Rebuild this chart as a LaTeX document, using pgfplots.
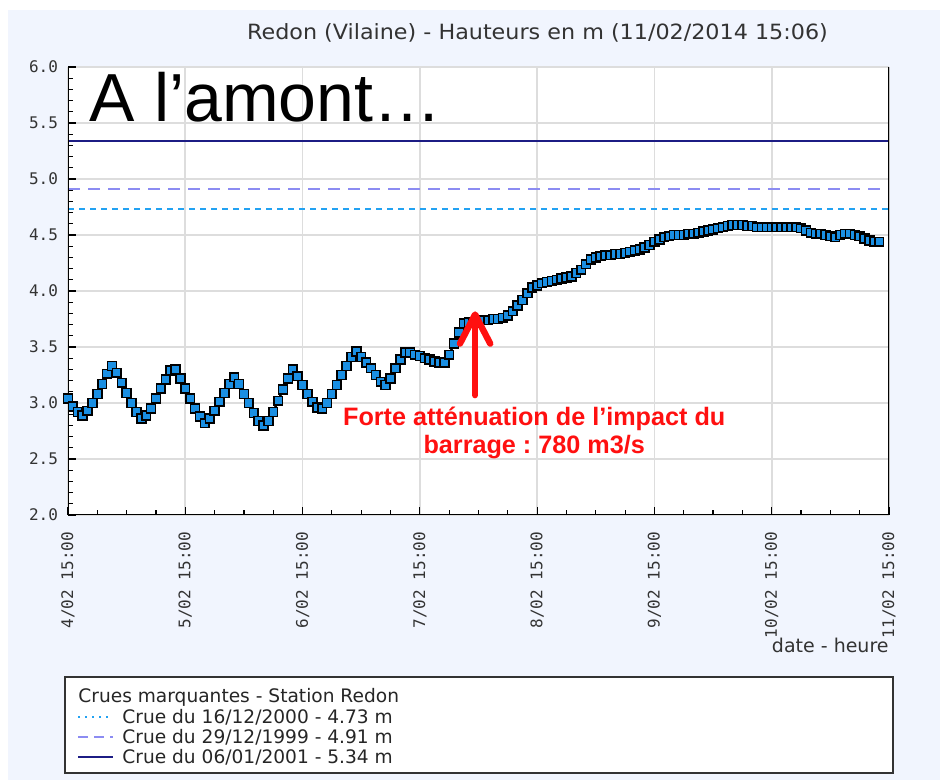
\documentclass[border=0pt]{standalone}
\usepackage{pgfplots}
\pgfplotsset{compat=1.18}
\usepackage{fontspec}
\setmainfont{DejaVu Sans}
\newfontfamily\monofont{DejaVu Sans Mono}
\newfontfamily\arial{Liberation Sans}
\frenchspacing
\definecolor{bgc}{HTML}{F1F5FE}
\definecolor{navyl}{HTML}{1C1C84}
\definecolor{lav}{HTML}{8C8CF2}
\definecolor{lblue}{HTML}{22A2F2}
\definecolor{mfill}{HTML}{1A8FE3}
\definecolor{gridc}{HTML}{DDDDDD}
\definecolor{redc}{HTML}{FF1010}
\pgfplotstableread{
h v
0 3.04
1 2.97
2 2.92
3 2.89
4 2.93
5 3.00
6 3.08
7 3.17
8 3.26
9 3.33
10 3.27
11 3.18
12 3.09
13 3.00
14 2.92
15 2.86
16 2.89
17 2.95
18 3.04
19 3.13
20 3.21
21 3.29
22 3.30
23 3.22
24 3.13
25 3.04
26 2.95
27 2.88
28 2.82
29 2.86
30 2.93
31 3.01
32 3.09
33 3.17
34 3.23
35 3.17
36 3.08
37 3.00
38 2.91
39 2.84
40 2.80
41 2.84
42 2.92
43 3.02
44 3.12
45 3.22
46 3.30
47 3.24
48 3.16
49 3.08
50 3.01
51 2.96
52 2.95
53 3.00
54 3.08
55 3.16
56 3.25
57 3.33
58 3.41
59 3.46
60 3.41
61 3.36
62 3.31
63 3.25
64 3.19
65 3.16
66 3.22
67 3.31
68 3.39
69 3.45
70 3.45
71 3.43
72 3.42
73 3.40
74 3.39
75 3.37
76 3.36
77 3.36
78 3.43
79 3.53
80 3.63
81 3.71
82 3.72
83 3.72
84 3.73
85 3.74
86 3.74
87 3.75
88 3.75
89 3.76
90 3.78
91 3.82
92 3.87
93 3.92
94 3.98
95 4.03
96 4.05
97 4.07
98 4.08
99 4.09
100 4.10
101 4.11
102 4.12
103 4.13
104 4.16
105 4.19
106 4.24
107 4.28
108 4.30
109 4.31
110 4.32
111 4.32
112 4.33
113 4.33
114 4.34
115 4.35
116 4.36
117 4.37
118 4.39
119 4.41
120 4.44
121 4.46
122 4.48
123 4.49
124 4.50
125 4.50
126 4.50
127 4.51
128 4.51
129 4.52
130 4.53
131 4.54
132 4.55
133 4.56
134 4.57
135 4.58
136 4.59
137 4.59
138 4.59
139 4.58
140 4.58
141 4.57
142 4.57
143 4.57
144 4.57
145 4.57
146 4.57
147 4.57
148 4.57
149 4.57
150 4.56
151 4.54
152 4.52
153 4.51
154 4.51
155 4.50
156 4.49
157 4.48
158 4.50
159 4.51
160 4.51
161 4.50
162 4.49
163 4.47
164 4.45
165 4.44
166 4.44
}\hauteurs
\begin{document}
\begin{tikzpicture}[x=1pt,y=1pt]
\fill[white] (0,0) rectangle (470,390);
\fill[bgc] (4,0) rectangle (470,385);
\begin{axis}[
  at={(34pt,132.5pt)}, anchor=south west,
  scale only axis, width=410.5pt, height=224pt,
  xmin=0, xmax=168, ymin=2, ymax=6,
  axis background/.style={fill=white},
  axis line style={draw=none},
  xtick={0,24,...,168},
  xticklabels={4/02 15:00,5/02 15:00,6/02 15:00,7/02 15:00,8/02 15:00,9/02 15:00,10/02 15:00,11/02 15:00},
  minor x tick num=3,
  ytick={2,2.5,...,6},
  minor y tick num=4,
  xtick pos=bottom, ytick pos=left,
  tick align=inside,
  major tick length=4pt, minor tick length=2.5pt,
  tick style={black, line width=0.6pt},
  xmajorgrids, ymajorgrids,
  major grid style={draw=gridc, line width=0.9pt},
  yticklabel style={font=\monofont\fontsize{8}{9}\selectfont, text=black!80, xshift=-1.5pt,
    /pgf/number format/fixed, /pgf/number format/fixed zerofill, /pgf/number format/precision=1},
  /pgf/number format/assume math mode=true,
  xticklabel style={font=\monofont\fontsize{8}{9}\selectfont, text=black!80, rotate=90, anchor=east, xshift=-5pt},
]
\addplot[lblue, line width=0.75pt, dash pattern=on 3pt off 2.5pt] coordinates {(0,4.73) (168,4.73)};
\addplot[lav, line width=0.75pt, dash pattern=on 6pt off 4pt] coordinates {(0,4.91) (168,4.91)};
\addplot[navyl, line width=0.8pt] coordinates {(0,5.34) (168,5.34)};
\addplot[black, line width=1.2pt, mark=square*, mark size=2.2pt,
  mark options={fill=mfill, draw=black, line width=0.8pt}] table[x=h, y=v] {\hauteurs};
\draw[black, line width=0.9pt] (rel axis cs:0,1) -- (rel axis cs:0,0) -- (rel axis cs:1,0);
\draw[black, line width=1.1pt] (rel axis cs:1,0) -- (rel axis cs:1,1);
\coordinate (abase) at (axis cs:83.3,3.07);
\coordinate (atip) at (axis cs:83.3,3.79);
\coordinate (ashaft) at (axis cs:83.3,3.77);
\coordinate (aleft) at (axis cs:80.2,3.53);
\coordinate (aright) at (axis cs:86.4,3.53);
\coordinate (annot) at (axis cs:95.4,2.73);
\coordinate (amont) at (axis cs:4.4,5.51);
\end{axis}
\draw[redc, line width=3.2pt, line cap=round] (abase) -- (ashaft);
\draw[redc, line width=3.2pt, line cap=round, line join=round] (aleft) -- (atip) -- (aright);
\node[text=redc, font=\arial\bfseries\fontsize{12.6}{14}\selectfont, align=center] at (annot) {Forte atténuation de l’impact du\\barrage : 780 m3/s};
\node[anchor=base west, inner sep=0pt, font=\arial\fontsize{34}{36}\selectfont] at (amont) {A l’amont…};
\node[font=\fontsize{10.5}{12}\selectfont, text=black!80, xscale=1.06] at (268.75,373.5) {Redon (Vilaine) - Hauteurs en m (11/02/2014 15:06)};
\node[anchor=east, inner sep=0pt, font=\fontsize{9.5}{11}\selectfont, text=black!80] at (444.5,67.5) {date - heure};
\draw[fill=white, draw=black!80, line width=0.8pt] (32.5,3.5) rectangle (446.5,51.5);
\node[anchor=west, inner sep=0pt, font=\fontsize{9.3}{11}\selectfont, text=black!85] at (39,41.5) {Crues marquantes - Station Redon};
\draw[lblue, line width=0.75pt, dash pattern=on 1pt off 2.5pt] (39,31.5) -- (56.5,31.5);
\node[anchor=west, inner sep=0pt, font=\fontsize{9.3}{11}\selectfont, text=black!85] at (61,31.5) {Crue du 16/12/2000 - 4.73 m};
\draw[lav, line width=0.75pt, dash pattern=on 5pt off 3pt] (39,21.5) -- (56.5,21.5);
\node[anchor=west, inner sep=0pt, font=\fontsize{9.3}{11}\selectfont, text=black!85] at (61,21.5) {Crue du 29/12/1999 - 4.91 m};
\draw[navyl, line width=0.8pt] (39,11.5) -- (56.5,11.5);
\node[anchor=west, inner sep=0pt, font=\fontsize{9.3}{11}\selectfont, text=black!85] at (61,11.5) {Crue du 06/01/2001 - 5.34 m};
\end{tikzpicture}
\end{document}
